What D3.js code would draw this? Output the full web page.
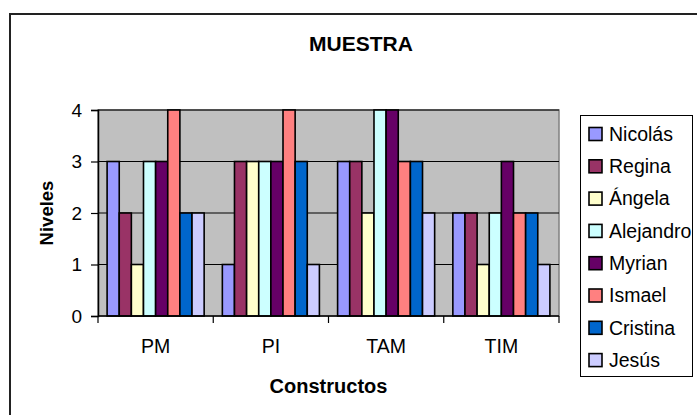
<!DOCTYPE html>
<html>
<head>
<meta charset="utf-8">
<script src="https://cdn.jsdelivr.net/npm/d3@7"></script>
<style>
  html, body { margin: 0; padding: 0; background: #ffffff; }
  svg { display: block; font-family: "Liberation Sans", Arial, sans-serif; }
</style>
</head>
<body>
<svg id="chart" width="697" height="415"></svg>
<script>
// Constructs on the x axis
const categories = ["PM", "PI", "TAM", "TIM"];
// People in the sample, one series each
const seriesNames = ["Nicolás", "Regina", "Ángela", "Alejandro", "Myrian", "Ismael", "Cristina", "Jesús"];
const seriesColors = ["#9999FF", "#993366", "#FFFFCC", "#CCFFFF", "#660066", "#FF8080", "#0066CC", "#CCCCFF"];
// Level per person for PM, PI, TAM, TIM
const nicolas   = [3, 1, 3, 2];
const regina    = [2, 3, 3, 2];
const angela    = [1, 3, 2, 1];
const alejandro = [3, 3, 4, 2];
const myrian    = [3, 3, 4, 3];
const ismael    = [4, 4, 3, 2];
const cristina  = [2, 3, 3, 2];
const jesus     = [2, 1, 2, 1];
const yTicks = [0, 1, 2, 3, 4];

const seriesValues = [nicolas, regina, angela, alejandro, myrian, ismael, cristina, jesus];

const svg = d3.select("#chart");

// Outer chart frame (runs off the right and bottom edges)
svg.append("rect")
  .attr("x", 10).attr("y", 14)
  .attr("width", 720).attr("height", 430)
  .attr("fill", "#ffffff")
  .attr("stroke", "#222222").attr("stroke-width", 2);

const plot = { left: 98, right: 559, top: 110, bottom: 316 };

const x0 = d3.scaleBand()
  .domain(categories)
  .range([plot.left, plot.right])
  .paddingInner(0).paddingOuter(0);

const x1 = d3.scaleBand()
  .domain(seriesNames)
  .range([0, x0.bandwidth()])
  .paddingInner(0).paddingOuter(0.75);

const y = d3.scaleLinear()
  .domain([0, 4])
  .range([plot.bottom, plot.top]);

// Plot area background
svg.append("rect")
  .attr("x", plot.left).attr("y", plot.top)
  .attr("width", plot.right - plot.left).attr("height", plot.bottom - plot.top)
  .attr("fill", "#C0C0C0")
  .attr("stroke", "#808080").attr("stroke-width", 1.5);

// Horizontal gridlines
svg.append("g")
  .selectAll("line")
  .data(yTicks.filter(d => d > 0))
  .join("line")
  .attr("x1", plot.left).attr("x2", plot.right)
  .attr("y1", d => y(d)).attr("y2", d => y(d))
  .attr("stroke", "#000000").attr("stroke-width", 1.2);

// Bars
const table = categories.map((c, ci) => ({
  category: c,
  values: seriesNames.map((s, si) => ({ name: s, color: seriesColors[si], value: seriesValues[si][ci] }))
}));

svg.append("g")
  .selectAll("g")
  .data(table)
  .join("g")
  .attr("transform", d => `translate(${x0(d.category)},0)`)
  .selectAll("rect")
  .data(d => d.values)
  .join("rect")
  .attr("x", d => x1(d.name))
  .attr("y", d => y(d.value))
  .attr("width", x1.bandwidth())
  .attr("height", d => y(0) - y(d.value))
  .attr("fill", d => d.color)
  .attr("stroke", "#000000").attr("stroke-width", 1.6);

// Y axis
const yAxis = svg.append("g")
  .attr("transform", `translate(${plot.left},0)`)
  .call(d3.axisLeft(y).tickValues(yTicks).tickFormat(d3.format("d")).tickSize(7).tickPadding(9));
yAxis.select(".domain").attr("stroke", "#000").attr("stroke-width", 1.5);
yAxis.selectAll(".tick line").attr("stroke", "#000").attr("stroke-width", 1.2);
yAxis.selectAll(".tick text")
  .attr("font-family", "Liberation Sans, Arial, sans-serif")
  .attr("font-size", 19).attr("fill", "#000");

// X axis: ticks sit on category boundaries, labels centred in each band
const boundaries = categories.map(c => x0(c)).concat([plot.right]);
const xAxis = svg.append("g");
xAxis.append("line")
  .attr("x1", plot.left).attr("x2", plot.right)
  .attr("y1", plot.bottom).attr("y2", plot.bottom)
  .attr("stroke", "#000").attr("stroke-width", 1.5);
xAxis.selectAll("line.tick")
  .data(boundaries)
  .join("line")
  .attr("class", "tick")
  .attr("x1", d => d).attr("x2", d => d)
  .attr("y1", plot.bottom).attr("y2", plot.bottom + 7)
  .attr("stroke", "#000").attr("stroke-width", 1.2);
xAxis.selectAll("text")
  .data(categories)
  .join("text")
  .attr("x", d => x0(d) + x0.bandwidth() / 2)
  .attr("y", 353)
  .attr("text-anchor", "middle")
  .attr("font-size", 19.5)
  .attr("fill", "#000")
  .text(d => d);

// Titles
svg.append("text")
  .attr("x", 361).attr("y", 51)
  .attr("text-anchor", "middle")
  .attr("font-size", 21).attr("font-weight", "bold")
  .text("MUESTRA");

svg.append("text")
  .attr("x", (plot.left + plot.right) / 2).attr("y", 393)
  .attr("text-anchor", "middle")
  .attr("font-size", 20).attr("font-weight", "bold")
  .text("Constructos");

svg.append("text")
  .attr("transform", `translate(53,${(plot.top + plot.bottom) / 2}) rotate(-90)`)
  .attr("text-anchor", "middle")
  .attr("font-size", 18.5).attr("font-weight", "bold")
  .text("Niveles");

// Legend
const legend = svg.append("g");
legend.append("rect")
  .attr("x", 580.5).attr("y", 115.5)
  .attr("width", 112).attr("height", 261)
  .attr("fill", "#ffffff")
  .attr("stroke", "#000").attr("stroke-width", 1);

const items = legend.selectAll("g.item")
  .data(seriesNames.map((n, i) => ({ name: n, color: seriesColors[i] })))
  .join("g")
  .attr("class", "item")
  .attr("transform", (d, i) => `translate(0,${134 + i * 32.3})`);
items.append("rect")
  .attr("x", 589).attr("y", -6.5)
  .attr("width", 13).attr("height", 13)
  .attr("fill", d => d.color)
  .attr("stroke", "#000").attr("stroke-width", 1.6);
items.append("text")
  .attr("x", 609).attr("y", 0)
  .attr("dy", "0.35em")
  .attr("font-size", 19.5)
  .attr("fill", "#000")
  .text(d => d.name);
</script>
</body>
</html>
